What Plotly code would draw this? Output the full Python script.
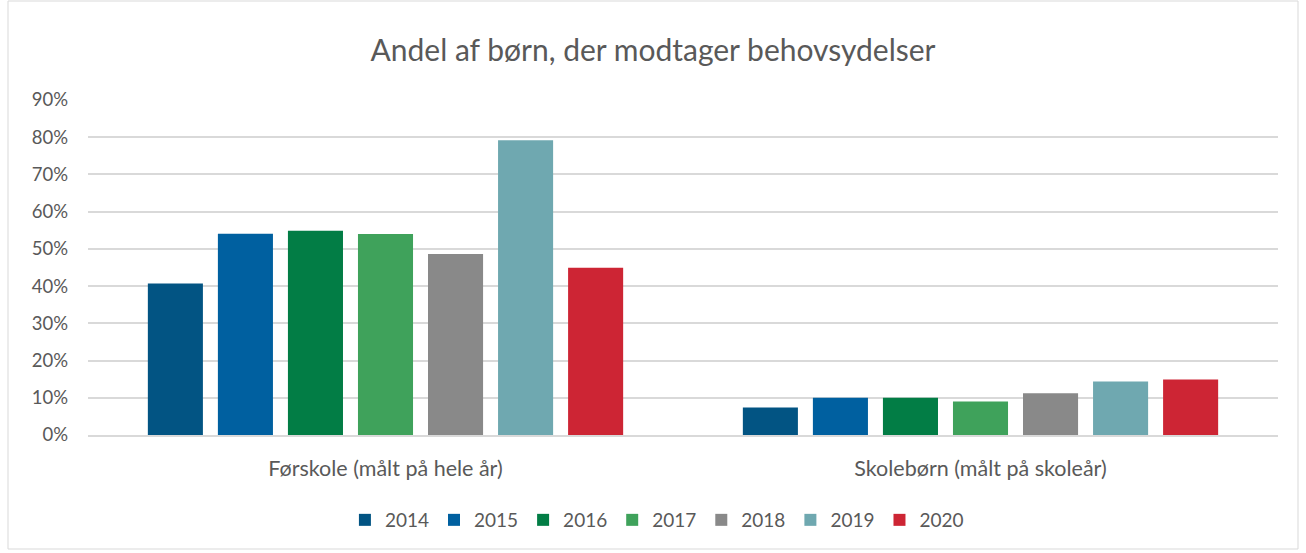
import plotly.graph_objects as go

categories = ["Førskole (målt på hele år)", "Skolebørn (målt på skoleår)"]
years = ["2014", "2015", "2016", "2017", "2018", "2019", "2020"]
v2014 = [0.407, 0.074]
v2015 = [0.541, 0.100]
v2016 = [0.549, 0.100]
v2017 = [0.540, 0.090]
v2018 = [0.486, 0.112]
v2019 = [0.792, 0.144]
v2020 = [0.449, 0.149]
series = [v2014, v2015, v2016, v2017, v2018, v2019, v2020]
colors = ["#025483", "#0060a0", "#027d45", "#3fa25b", "#898989", "#6fa8b0", "#cd2534"]
yticks = [0, 0.1, 0.2, 0.3, 0.4, 0.5, 0.6, 0.7, 0.8, 0.9]

FONT = "Lato"
TXT = "#595959"

fig = go.Figure()
for name, vals, col in zip(years, series, colors):
    fig.add_trace(go.Bar(name=name, x=categories, y=vals, marker_color=col,
                         marker_line_width=0))

W, H = 1306, 553
ml, mr, mt, mb = 88, 28, 100, 118
pw, ph = W - ml - mr, H - mt - mb

fig.update_layout(
    width=W, height=H,
    margin=dict(l=ml, r=mr, t=mt, b=mb, autoexpand=False),
    paper_bgcolor="white", plot_bgcolor="white",
    barmode="group", bargap=0.176, bargroupgap=0.214,
    font=dict(family=FONT, color=TXT, size=18),
    title=dict(text="Andel af børn, der modtager behovsydelser",
               x=0.5, xanchor="center", xref="container",
               y=1 - 50 / H, yanchor="middle", yref="container",
               automargin=False,
               font=dict(family=FONT, size=30, color=TXT)),
    legend=dict(orientation="h", x=0.503, xanchor="center", xref="container",
                y=1 - 520 / H, yanchor="middle", yref="container",
                font=dict(family=FONT, size=19, color=TXT),
                itemwidth=30, traceorder="normal"),
    yaxis=dict(range=[0, 0.9], tickvals=yticks, tickformat=".0%",
               automargin=False,
               showgrid=True, gridcolor="#d9d9d9", gridwidth=1.5,
               zeroline=False, showline=False,
               ticklabelstandoff=19, tickfont=dict(size=18.5, color=TXT)),
    xaxis=dict(showline=True, linecolor="#d9d9d9", linewidth=1.5,
               automargin=False,
               ticks="", ticklabelstandoff=13, tickfont=dict(size=21.5, color=TXT)),
    shapes=[dict(type="rect", xref="paper", yref="paper",
                 x0=(8 - ml) / pw, x1=(1298 - ml) / pw,
                 y0=(H - mb - 549) / ph, y1=(H - mb - 1) / ph,
                 line=dict(color="#d9d9d9", width=1), fillcolor="rgba(0,0,0,0)",
                 layer="below")],
)

fig.write_html("out.html", config={"displayModeBar": False},
               post_script="document.body.style.margin='0';document.body.style.overflow='hidden';")
